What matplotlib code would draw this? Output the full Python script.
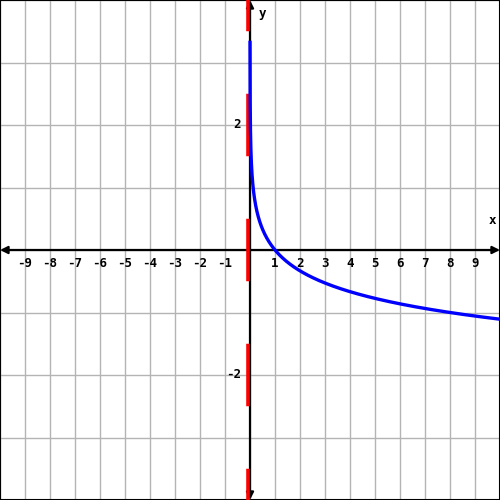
import numpy as np
import matplotlib
matplotlib.use("Agg")
import matplotlib.pyplot as plt

# curve y = log_{1/8}(x), asymptote x = 0
base = 1 / 8
x_start, x_end = 0.001, 10
x_ticks = [-9, -8, -7, -6, -5, -4, -3, -2, -1, 1, 2, 3, 4, 5, 6, 7, 8, 9]
y_ticks = [2, -2]
asym_x = -0.1

fig = plt.figure(figsize=(5, 5), dpi=100)
ax = fig.add_axes([0, 0, 1, 1])
ax.set_xlim(-10, 10)
ax.set_ylim(-4, 4)

# grid
for gx in range(-10, 11):
    ax.axvline(gx, color="#b4b4b4", lw=1, zorder=0)
for gy in range(-4, 5):
    ax.axhline(gy, color="#b4b4b4", lw=1, zorder=0)

# axes with arrows
ax.annotate("", xy=(10, 0), xytext=(-10, 0),
            arrowprops=dict(arrowstyle="<|-|>", color="black", lw=1.6,
                            mutation_scale=11, shrinkA=0, shrinkB=0), zorder=3)
ax.annotate("", xy=(0, 4), xytext=(0, -4),
            arrowprops=dict(arrowstyle="<|-|>", color="black", lw=1.6,
                            mutation_scale=11, shrinkA=0, shrinkB=0), zorder=3)

# asymptote, dashes one grid unit long (62.5 px = 45 pt)
red_lw = 2.6
dash = 45 / red_lw
ax.plot([asym_x, asym_x], [-4, 4], color="red", lw=red_lw,
        linestyle=(dash / 2, (dash, dash)), dash_capstyle="butt", zorder=4)

# curve
xs = np.sort(np.concatenate([np.geomspace(x_start, 1, 400), np.linspace(1, x_end, 300)]))
ys = np.log(xs) / np.log(base)
ax.plot(xs, ys, color="blue", lw=2.4, zorder=5)

font = dict(family="DejaVu Sans Mono", weight="bold", fontsize=9)
for t in x_ticks:
    ax.text(t, -0.21, str(t), ha="center", va="center", **font)
for t in y_ticks:
    ax.text(-0.35, t, str(t), ha="right", va="center", **font)
ax.text(9.7, 0.48, "x", ha="center", va="center", **font)
ax.text(0.5, 3.78, "y", ha="center", va="center", **font)

ax.set_xticks([])
ax.set_yticks([])
for s in ax.spines.values():
    s.set_color("black")
    s.set_linewidth(1.5)

fig.savefig("out.png", dpi=100)
